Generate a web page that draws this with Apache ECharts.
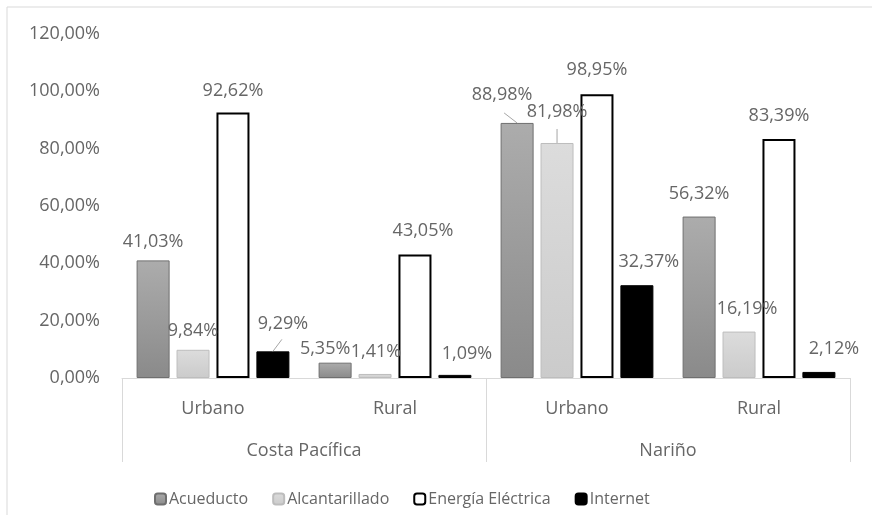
<!DOCTYPE html>
<html>
<head>
<meta charset="utf-8">
<script src="https://cdn.jsdelivr.net/npm/echarts@6/dist/echarts.min.js"></script>
<style>
html,body{margin:0;padding:0;background:#fff;}
#chart{width:872px;height:515px;}
</style>
</head>
<body>
<div id="chart"></div>
<script>
// ---- data ----
const subCategories = ['Urbano', 'Rural', 'Urbano', 'Rural'];
const groups = ['Costa Pacífica', 'Nariño'];
const seriesNames = ['Acueducto', 'Alcantarillado', 'Energía Eléctrica', 'Internet'];
const acueducto = [41.03, 5.35, 88.98, 56.32];
const alcantarillado = [9.84, 1.41, 81.98, 16.19];
const energiaElectrica = [92.62, 43.05, 98.95, 83.39];
const internet = [9.29, 1.09, 32.37, 2.12];
const yTicks = [0, 20, 40, 60, 80, 100, 120];

// ---- presentation ----
const FONT = 'Open Sans';
const TXT = '#666666';
const labelOffsets = [
  [[0,0],[-10,5],[-15,-9],[0,-4]],
  [[0,0],[1,-3],[0,-12],[8,-4]],
  [[0,-3],[8,-5],[0,-5],[0,-4]],
  [[10,-8],[12,-2],[12,-4],[15,-4]]
];
// leader lines: [seriesIndex, categoryIndex, dx, dy] from bar top centre
const leaders = [[0, 2, -13, -10], [1, 2, 0, -14], [3, 0, 9, -12]];
const styles = [
  {color: {type:'linear',x:0,y:0,x2:0,y2:1,colorStops:[{offset:0,color:'#acacac'},{offset:1,color:'#8a8a8a'}]}, borderColor:'#6f6f6f', borderWidth:1},
  {color: {type:'linear',x:0,y:0,x2:0,y2:1,colorStops:[{offset:0,color:'#dcdcdc'},{offset:1,color:'#cbcbcb'}]}, borderColor:'#bdbdbd', borderWidth:1},
  {color:'#ffffff', borderColor:'#000000', borderWidth:2},
  {color:'#000000', borderColor:'#000000', borderWidth:1}
];
const values = [acueducto, alcantarillado, energiaElectrica, internet];

const fmt = v => v.toFixed(2).replace('.', ',') + '%';

const chart = echarts.init(document.getElementById('chart'), null, {renderer:'canvas'});

const series = seriesNames.map((name, si) => ({
  name: name,
  type: 'bar',
  xAxisIndex: 0,
  barWidth: 33,
  barGap: '21%',
  itemStyle: styles[si],
  data: values[si],
  label: {
    show: true,
    position: 'top',
    distance: 10,
    color: TXT,
    fontFamily: FONT,
    fontSize: 18,
    formatter: p => fmt(p.value)
  },
  labelLayout: function (params) {
    const o = labelOffsets[si][params.dataIndex];
    return {dx: o[0], dy: o[1]};
  },
  emphasis: {disabled: true}
}));

const option = {
  animation: false,
  backgroundColor: '#ffffff',
  textStyle: {fontFamily: FONT},
  grid: {left: 122, right: 22, top: 34, bottom: 137},
  legend: {
    left: 149,
    top: 486,
    itemWidth: 11,
    itemHeight: 11,
    itemGap: 24,
    data: seriesNames,
    textStyle: {color: TXT, fontFamily: FONT, fontSize: 16, padding: [0,0,0,-2]}
  },
  xAxis: [
    {
      type: 'category',
      data: subCategories,
      position: 'bottom',
      axisLine: {show: true, lineStyle: {color: '#d9d9d9', width: 1}},
      axisTick: {show: false},
      axisLabel: {color: TXT, fontFamily: FONT, fontSize: 18, margin: 22}
    },
    {
      type: 'category',
      data: groups,
      position: 'bottom',
      offset: 0,
      axisLine: {show: false},
      axisTick: {show: true, length: 84, lineStyle: {color: '#d9d9d9', width: 1}},
      axisLabel: {color: TXT, fontFamily: FONT, fontSize: 18, margin: 64}
    }
  ],
  yAxis: {
    type: 'value',
    min: yTicks[0],
    max: yTicks[yTicks.length - 1],
    interval: yTicks[1] - yTicks[0],
    axisLine: {show: false},
    axisTick: {show: false},
    splitLine: {show: false},
    axisLabel: {color: TXT, fontFamily: FONT, fontSize: 18, margin: 22, formatter: v => fmt(v)}
  },
  series: series
};

chart.setOption(option);

// border frame + leader lines anchored to the library's bar layout
const graphics = [{
  type: 'rect',
  shape: {x: 7, y: 7, width: 1000, height: 1000},
  style: {fill: 'none', stroke: '#d9d9d9', lineWidth: 1},
  silent: true
}];
const model = chart.getModel();
leaders.forEach(([si, ci, dx, dy]) => {
  const layout = model.getSeriesByIndex(si).getData().getItemLayout(ci);
  if (!layout) return;
  const cx = layout.x + layout.width / 2;
  const top = Math.min(layout.y, layout.y + layout.height);
  graphics.push({
    type: 'line',
    shape: {x1: cx, y1: top, x2: cx + dx, y2: top + dy},
    style: {stroke: '#a6a6a6', lineWidth: 1},
    silent: true,
    z: 10
  });
});
chart.setOption({graphic: graphics});
</script>
</body>
</html>
